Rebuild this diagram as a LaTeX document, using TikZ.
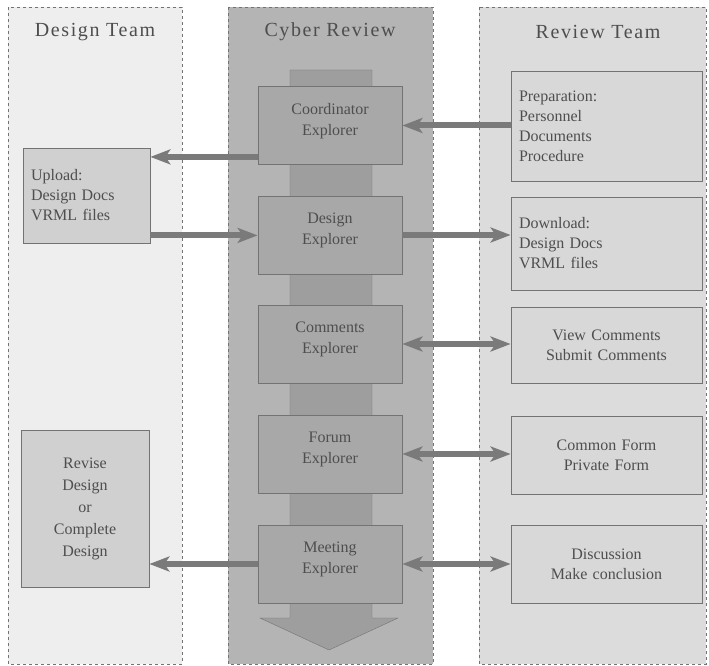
\documentclass[tikz,border=0pt]{standalone}
\usepackage{fontspec}
\setmainfont{Liberation Serif}
\newfontfamily\lanefont[LetterSpace=8]{Liberation Serif}
\usepackage{tikz}
\usetikzlibrary{positioning, calc, arrows.meta}
\definecolor{lanelight}{RGB}{238, 238, 238}
\definecolor{lanemid}{RGB}{180, 180, 180}
\definecolor{laneright}{RGB}{220, 220, 220}
\definecolor{boxleft}{RGB}{208, 208, 208}
\definecolor{boxright}{RGB}{216, 216, 216}
\definecolor{explorer}{RGB}{168, 168, 168}
\definecolor{shaft}{RGB}{158, 158, 158}
\definecolor{edge}{RGB}{115, 115, 115}
\definecolor{ink}{RGB}{78, 78, 78}
\definecolor{flow}{RGB}{122, 122, 122}

\tikzset{
    lane/.style={draw=edge, dashed, thin},
    lanetitle/.style={font=\lanefont\fontsize{20}{22}\selectfont, text=ink},
    explbox/.style={draw=edge, fill=explorer, thick, minimum width=144pt, minimum height=78pt,
        align=center, text=ink, font=\fontsize{16}{21}\selectfont},
    sidebox/.style={draw=edge, thick, text=ink, font=\fontsize{16}{20}\selectfont},
    bigarrow/.style={line width=6pt, flow, -{Stealth[length=20pt, width=15pt, inset=5pt]}},
    bothways/.style={line width=6pt, flow, {Stealth[length=20pt, width=15pt, inset=5pt]}-{Stealth[length=20pt, width=15pt, inset=5pt]}}
}

\begin{document}
\begin{tikzpicture}[x=1pt, y=-1pt]
    \useasboundingbox (0,0) rectangle (709,666);

    % Swim lanes
    \filldraw[lane, fill=lanelight] (8,7) rectangle (182,664);
    \filldraw[lane, fill=lanemid] (228,7) rectangle (433,664);
    \filldraw[lane, fill=laneright] (479,7) rectangle (706,664);
    \node[lanetitle] (tdesign) at (95,32) {Design Team};
    \node[lanetitle] (tcyber) at (330,32) {Cyber Review};
    \node[lanetitle] (treview) at (598,32) {Review Team};

    % Central flow
    \filldraw[draw=edge, fill=shaft] (290,70) -- (372,70) -- (372,618) -- (398,618)
        -- (329,650) -- (260,618) -- (290,618) -- cycle;

    % Explorers
    \node[explbox] (coord) at (330,125.5) {Coordinator\\Explorer\\[-9pt]};
    \node[explbox] (design) at (330,235) {Design\\Explorer\\[-9pt]};
    \node[explbox] (comm) at (330,344) {Comments\\Explorer\\[-9pt]};
    \node[explbox] (forum) at (330,454) {Forum\\Explorer\\[-9pt]};
    \node[explbox] (meet) at (330,564) {Meeting\\Explorer\\[-9pt]};

    % Design team
    \node[sidebox, fill=boxleft, minimum width=127pt, minimum height=95pt, text width=111pt,
        align=left] (upload) at (86.5,195.5) {Upload:\\Design Docs\\VRML files\\[6pt]};
    \node[sidebox, fill=boxleft, minimum width=128pt, minimum height=157pt, text width=110pt,
        align=center, font=\fontsize{16}{22}\selectfont] (revise) at (85,508.5)
        {Revise\\Design\\or\\Complete\\Design\\[12pt]};

    % Review team
    \node[sidebox, fill=boxright, minimum width=191pt, minimum height=110pt, text width=175pt,
        align=left] (prep) at (606.5,126) {Preparation:\\Personnel\\Documents\\Procedure\\[6pt]};
    \node[sidebox, fill=boxright, minimum width=191pt, minimum height=93pt, text width=175pt,
        align=left] (down) at (606.5,243.5) {Download:\\Design Docs\\VRML files\\[14pt]};
    \node[sidebox, fill=boxright, minimum width=191pt, minimum height=76pt, text width=175pt,
        align=center] (view) at (606.5,345) {View Comments\\Submit Comments\\[12pt]};
    \node[sidebox, fill=boxright, minimum width=191pt, minimum height=78pt, text width=175pt,
        align=center] (common) at (606.5,455) {Common Form\\Private Form\\[12pt]};
    \node[sidebox, fill=boxright, minimum width=191pt, minimum height=78pt, text width=175pt,
        align=center] (disc) at (606.5,564) {Discussion\\Make conclusion\\[12pt]};

    % Connectors
    \coordinate (c1) at ($(coord.south west)+(0,-8)$);
    \draw[bigarrow] (c1) -- (c1 -| upload.east);
    \coordinate (c2) at ($(upload.south east)+(0,-8)$);
    \draw[bigarrow] (c2) -- (c2 -| design.west);
    \draw[bigarrow] (prep.west |- coord.east) -- (coord.east);
    \draw[bigarrow] (design.east) -- (design.east -| down.west);
    \draw[bothways] (comm.east) -- (comm.east -| view.west);
    \draw[bothways] (forum.east) -- (forum.east -| common.west);
    \draw[bothways] (meet.east) -- (meet.east -| disc.west);
    \draw[bigarrow] (meet.west) -- (meet.west -| revise.east);
\end{tikzpicture}
\end{document}
